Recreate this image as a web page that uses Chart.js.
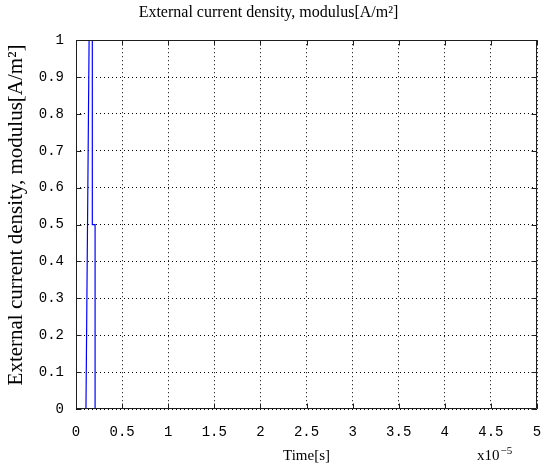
<!DOCTYPE html>
<html>
<head>
<meta charset="utf-8">
<script src="https://cdn.jsdelivr.net/npm/chart.js@4/dist/chart.umd.min.js"></script>
<style>
  html, body { margin: 0; padding: 0; background: #ffffff; }
  #wrap { width: 544px; height: 471px; position: relative; }
</style>
</head>
<body>
<div id="wrap"><canvas id="c" width="544" height="471"></canvas></div>
<script>
// ---- data (time in units of 1e-5 s) ----
const timeValues    = [0, 0.108, 0.142, 0.177, 0.177, 0.207, 0.207];
const densityValues = [0, 0,     1,     1,     0.5,   0.5,   0];
const xTickValues = [0, 0.5, 1, 1.5, 2, 2.5, 3, 3.5, 4, 4.5, 5];
const yTickValues = [0, 0.1, 0.2, 0.3, 0.4, 0.5, 0.6, 0.7, 0.8, 0.9, 1];
const chartTitle = 'External current density, modulus[A/m²]';
const yAxisTitle = 'External current density, modulus[A/m²]';
const xAxisTitle = 'Time[s]';
const xExponentBase = 'x10';
const xExponent = '−5';

const points = timeValues.map((t, i) => ({ x: t, y: densityValues[i] }));

const FRAME = '#1e1e1e';

const overlayPlugin = {
  id: 'overlay',
  afterDraw(chart) {
    const { ctx, chartArea: a, scales } = chart;
    ctx.save();
    ctx.setLineDash([]);
    ctx.strokeStyle = FRAME;
    ctx.lineWidth = 1;
    const l = Math.round(a.left) + 0.5, r = Math.round(a.right) - 0.5;
    const t = Math.round(a.top) + 0.5, b = Math.round(a.bottom) - 0.5;
    ctx.beginPath();
    ctx.moveTo(l, t); ctx.lineTo(r, t); ctx.lineTo(r, b); ctx.lineTo(l, b); ctx.closePath();
    const L = 5;
    xTickValues.forEach(v => {
      const x = Math.round(scales.x.getPixelForValue(v)) + 0.5;
      ctx.moveTo(x, b); ctx.lineTo(x, b - L);
      ctx.moveTo(x, t); ctx.lineTo(x, t + L);
    });
    yTickValues.forEach(v => {
      const y = Math.round(scales.y.getPixelForValue(v)) + 0.5;
      ctx.moveTo(l, y); ctx.lineTo(l + L, y);
      ctx.moveTo(r, y); ctx.lineTo(r - L, y);
    });
    ctx.stroke();

    // x-axis exponent
    ctx.fillStyle = '#000000';
    ctx.textBaseline = 'middle';
    ctx.textAlign = 'left';
    ctx.font = '15px "Liberation Serif"';
    const bx = 477, by = 456;
    ctx.fillText(xExponentBase, bx, by);
    const w = ctx.measureText(xExponentBase).width;
    ctx.font = '11px "Liberation Serif"';
    ctx.fillText(xExponent, bx + w + 1, by - 5);

    // y-axis title (rotated)
    ctx.save();
    ctx.translate(16, 215);
    ctx.rotate(-Math.PI / 2);
    ctx.font = '21px "Liberation Serif"';
    ctx.textAlign = 'center';
    ctx.textBaseline = 'middle';
    ctx.fillText(yAxisTitle, 0, 0);
    ctx.restore();

    ctx.restore();
  }
};

const monoFont = { family: '"Liberation Mono"', size: 14 };

new Chart(document.getElementById('c'), {
  type: 'line',
  data: {
    datasets: [{
      data: points,
      borderColor: '#0000ff',
      borderWidth: 1.2,
      pointRadius: 0,
      fill: false,
      tension: 0
    }]
  },
  options: {
    responsive: false,
    animation: false,
    devicePixelRatio: 1,
    layout: { padding: { left: 0, right: 7, top: 0, bottom: 0 } },
    plugins: {
      legend: { display: false },
      tooltip: { enabled: false },
      title: {
        display: true,
        text: chartTitle,
        color: '#000000',
        font: { family: '"Liberation Serif"', size: 16, weight: 'normal' },
        padding: { top: 3, bottom: 18 }
      }
    },
    scales: {
      x: {
        type: 'linear',
        position: 'bottom',
        min: 0, max: 5,
        afterBuildTicks(scale) { scale.ticks = xTickValues.map(v => ({ value: v })); },
        afterFit(scale) { scale.height = 62; scale.paddingRight = 0; scale.paddingLeft = 0; },
        ticks: { color: '#000000', font: monoFont, padding: 15, maxRotation: 0, callback: v => String(v) },
        grid: { color: '#000000', lineWidth: 1, drawTicks: false },
        border: { display: false, dash: [1, 3] },
        title: {
          display: true, text: xAxisTitle, color: '#000000',
          font: { family: '"Liberation Serif"', size: 15 },
          padding: { top: 0, bottom: 6 }
        }
      },
      y: {
        type: 'linear',
        position: 'left',
        min: 0, max: 1,
        afterBuildTicks(scale) { scale.ticks = yTickValues.map(v => ({ value: v })); },
        afterFit(scale) { scale.width = 76; },
        ticks: { color: '#000000', font: monoFont, padding: 12, callback: v => String(v) },
        grid: { color: '#000000', lineWidth: 1, drawTicks: false },
        border: { display: false, dash: [1, 3] },
        title: { display: false }
      }
    }
  },
  plugins: [overlayPlugin]
});
</script>
</body>
</html>
